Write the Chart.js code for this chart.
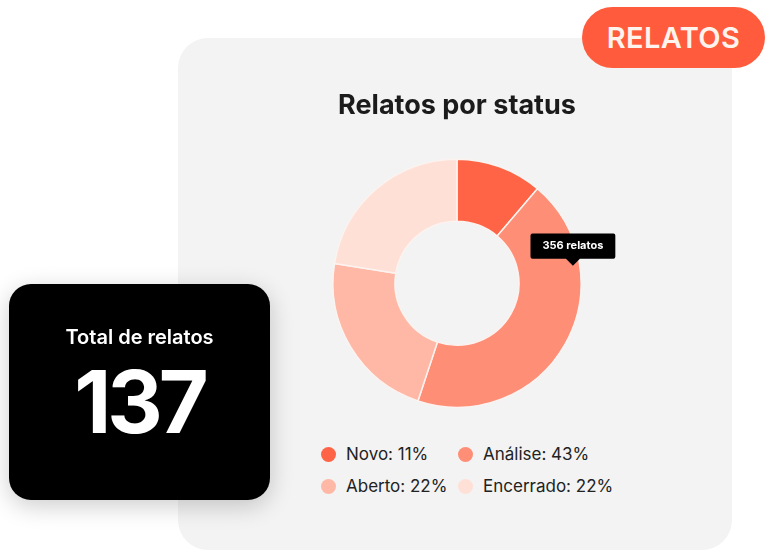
<!DOCTYPE html>
<html lang="pt-BR">
<head>
<meta charset="utf-8">
<title>Relatos por status</title>
<script src="https://cdn.jsdelivr.net/npm/chart.js@4/dist/chart.umd.min.js"></script>
<style>
  html, body { margin: 0; padding: 0; background: #ffffff; width: 766px; height: 551px; overflow: hidden;
    font-family: Inter, "Noto Sans", sans-serif; }
  .panel { position: absolute; left: 178px; top: 38px; width: 554px; height: 512px;
    background: #f3f3f3; border-radius: 30px; }
  .chart-box { position: absolute; left: 287px; top: 80px; width: 340px; height: 328px; }
  .badge { position: absolute; left: 582px; top: 7px; width: 183px; height: 61px; border-radius: 31px;
    background: #ff5b3c; color: #fff3ee; font-weight: 600; font-size: 29px; letter-spacing: 0.4px;
    display: flex; align-items: center; justify-content: center; }
  .total { position: absolute; left: 9px; top: 284px; width: 261px; height: 216px; background: #000;
    border-radius: 22px; box-shadow: 0 6px 24px rgba(0,0,0,0.20); color: #fff; text-align: center; }
  .total .cap { position: absolute; left: 0; right: 0; top: 41px; font-size: 20px; font-weight: 600; }
  .total .num { position: absolute; left: 0; right: 0; top: 68px; font-size: 86px; font-weight: 700;
    letter-spacing: -4px; line-height: 100px; }
  .legend { position: absolute; left: 321px; top: 438px; display: grid;
    grid-template-columns: 137px auto; grid-auto-rows: 32px; font-size: 17px; color: #222; }
  .legend .item { display: flex; align-items: center; }
  .legend .dot { width: 15px; height: 15px; border-radius: 50%; margin-right: 10px; flex: none; }
</style>
</head>
<body>
<div class="panel"></div>
<div class="chart-box"><canvas id="statusChart" width="340" height="328"></canvas></div>
<div class="legend" id="legend"></div>
<div class="badge">RELATOS</div>
<div class="total">
  <div class="cap">Total de relatos</div>
  <div class="num" id="totalNum"></div>
</div>
<script>
// Report status breakdown (share of reports, in %)
const statusLabels = ['Novo', 'Análise', 'Aberto', 'Encerrado'];
const statusShares = [11, 43, 22, 22];
const statusColors = ['#ff6446', '#ff8e77', '#ffb8a6', '#ffe0d6'];

// Highlighted slice and the count shown in its tooltip
const highlightIndex = 1;
const highlightCount = 356;

// Total shown in the summary card
const totalReports = 137;

document.getElementById('totalNum').textContent = totalReports;

// Two-column legend built from the same arrays as the chart
const legend = document.getElementById('legend');
statusLabels.forEach((label, i) => {
  const item = document.createElement('div');
  item.className = 'item';
  const dot = document.createElement('span');
  dot.className = 'dot';
  dot.style.background = statusColors[i];
  const text = document.createElement('span');
  text.textContent = `${label}: ${statusShares[i]}%`;
  item.appendChild(dot);
  item.appendChild(text);
  legend.appendChild(item);
});

// Tooltip anchored at the given pointer position
const tooltipPlugin = Chart.registry.getPlugin('tooltip');
tooltipPlugin.positioners.pointer = (items, eventPosition) => eventPosition || false;

const chart = new Chart(document.getElementById('statusChart'), {
  type: 'doughnut',
  data: {
    labels: statusLabels,
    datasets: [{
      data: statusShares,
      backgroundColor: statusColors,
      borderColor: '#fbf3f0',
      borderWidth: 1.5,
      hoverOffset: 0
    }]
  },
  options: {
    responsive: false,
    animation: false,
    cutout: '50%',
    layout: { padding: 0 },
    events: [],
    plugins: {
      legend: { display: false },
      title: {
        display: true,
        text: 'Relatos por status',
        color: '#1b1b1b',
        font: { family: 'Inter', size: 27, weight: '700' },
        padding: { top: 10, bottom: 36 }
      },
      tooltip: {
        position: 'pointer',
        yAlign: 'bottom',
        xAlign: 'center',
        backgroundColor: '#000000',
        bodyColor: '#ffffff',
        bodyFont: { family: 'Inter', size: 11, weight: '700' },
        displayColors: false,
        cornerRadius: 2,
        padding: { x: 12, y: 6 },
        caretSize: 7,
        caretPadding: 0,
        callbacks: {
          title: () => '',
          label: () => `${highlightCount} relatos`
        }
      }
    }
  }
});

// Show the tooltip for the highlighted slice, near its outer edge
const arc = chart.getDatasetMeta(0).data[highlightIndex];
const pointerAngle = -0.15;
const pointerRadius = arc.outerRadius * 0.945;
chart.tooltip.setActiveElements(
  [{ datasetIndex: 0, index: highlightIndex }],
  { x: arc.x + pointerRadius * Math.cos(pointerAngle), y: arc.y + pointerRadius * Math.sin(pointerAngle) }
);
chart.update();
</script>
</body>
</html>
